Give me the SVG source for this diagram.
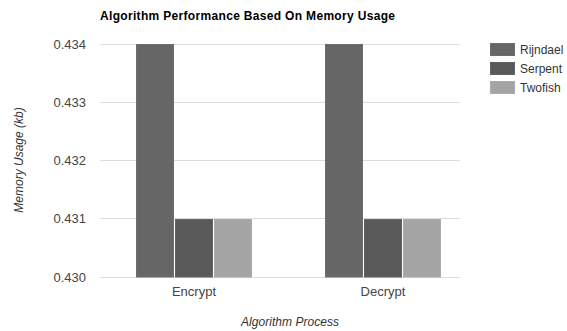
<svg xmlns="http://www.w3.org/2000/svg" width="567" height="331" viewBox="0 0 567 331">
<style>
text{font-family:"Liberation Sans",Arial,sans-serif;}
.tick{font-size:13px;fill:#444;}
.grid{stroke:#dddddd;stroke-width:1;}
.r{fill:#666666;stroke:#6e6e6e;stroke-width:1;}
.s{fill:#595959;stroke:#626262;stroke-width:1;}
.t{fill:#a4a4a4;stroke:#ababab;stroke-width:1;}
.leg{font-size:12px;fill:#333;}
.axt{font-size:12px;font-style:italic;fill:#333;}
</style>
<rect width="567" height="331" fill="#ffffff"/>
<text x="100" y="20" font-size="12" font-weight="bold" fill="#000" textLength="295">Algorithm Performance Based On Memory Usage</text>
<g id="gridlines">
<line class="grid" x1="100" y1="44.5" x2="460" y2="44.5"/>
<line class="grid" x1="100" y1="102.5" x2="460" y2="102.5"/>
<line class="grid" x1="100" y1="160.5" x2="460" y2="160.5"/>
<line class="grid" x1="100" y1="218.5" x2="460" y2="218.5"/>
<line class="grid" x1="100" y1="277.5" x2="460" y2="277.5" stroke="#cccccc"/>
</g>
<g id="yticks" text-anchor="end">
<text class="tick" x="86" y="49">0.434</text>
<text class="tick" x="86" y="107">0.433</text>
<text class="tick" x="86" y="165">0.432</text>
<text class="tick" x="86" y="223">0.431</text>
<text class="tick" x="86" y="282">0.430</text>
</g>
<g id="bars-encrypt">
<rect class="r" x="136.5" y="44.5" width="37" height="232.5"/>
<rect class="s" x="175.5" y="219.5" width="37" height="57.5"/>
<rect class="t" x="214.5" y="219.5" width="37" height="57.5"/>
</g>
<g id="bars-decrypt">
<rect class="r" x="325.5" y="44.5" width="37" height="232.5"/>
<rect class="s" x="364.5" y="219.5" width="37" height="57.5"/>
<rect class="t" x="403.5" y="219.5" width="37" height="57.5"/>
</g>
<g id="xticks" text-anchor="middle">
<text class="tick" x="194" y="296">Encrypt</text>
<text class="tick" x="383" y="296">Decrypt</text>
</g>
<text class="axt" x="290" y="326" text-anchor="middle" textLength="98">Algorithm Process</text>
<text class="axt" transform="translate(23,160) rotate(-90)" text-anchor="middle">Memory Usage (kb)</text>
<g id="legend">
<rect class="r" x="490.5" y="43.5" width="24" height="12"/>
<text class="leg" x="520" y="54">Rijndael</text>
<rect class="s" x="490.5" y="62.5" width="24" height="12"/>
<text class="leg" x="520" y="73">Serpent</text>
<rect class="t" x="490.5" y="81.5" width="24" height="12"/>
<text class="leg" x="520" y="92">Twofish</text>
</g>
</svg>
